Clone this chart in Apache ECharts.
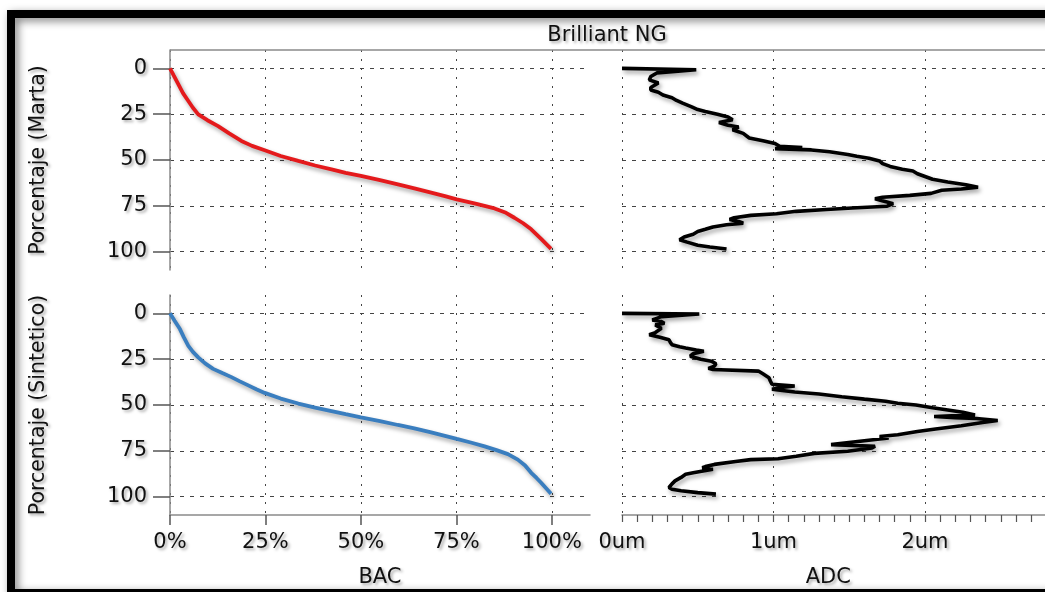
<!DOCTYPE html>
<html>
<head>
<meta charset="utf-8">
<script src="https://cdn.jsdelivr.net/npm/echarts@6/dist/echarts.min.js"></script>
<style>
html,body{margin:0;padding:0;background:#fff;}
#chart{width:1045px;height:592px;}
</style>
</head>
<body>
<div id="chart"></div>
<script>
// ---- data ----
const titleText = 'Brilliant NG';
const pctTicks = [0, 25, 50, 75, 100];
const bacTicks = [0, 25, 50, 75, 100];

// Top-left: Porcentaje (Marta) vs BAC (%)
const martaBac = [0, 1.0, 2.2, 3.4, 4.8, 6.0, 7.4, 9.8, 12.6, 15.5, 18.7, 21.5, 24.8, 29, 33.6, 38, 42.3, 46, 50, 55, 59.7, 64, 68.4, 72, 75.1, 80, 85, 88, 90.2, 92.5, 94.6, 97.2, 99.8];
const martaPct = [0, 4, 8.7, 13.5, 17.8, 21.5, 25.1, 28.3, 31.5, 35.5, 39.6, 42.3, 44.7, 47.8, 50.5, 53, 55.1, 57, 58.7, 61, 63.3, 65.5, 67.8, 69.7, 71.5, 73.8, 76.4, 78.8, 81.5, 84.5, 87.8, 93, 98.5];

// Bottom-left: Porcentaje (Sintetico) vs BAC (%)
const sintBac = [0, 1.2, 2.6, 3.6, 4.8, 6, 7.4, 9.2, 11.3, 13.7, 16.1, 18.3, 20.5, 22.6, 24.8, 29, 33.6, 38, 42.3, 46, 50, 55, 59.7, 64, 68.4, 72, 75.1, 79, 82.4, 85.5, 88.5, 91.1, 93, 94.6, 96, 97.2, 99.8];
const sintPct = [0, 4, 8.6, 13, 17.7, 21, 24, 27.3, 30.3, 32.6, 34.8, 37.1, 39.3, 41.4, 43.4, 46.5, 49.2, 51.4, 53.3, 55, 56.8, 58.8, 60.9, 62.7, 64.9, 66.8, 68.5, 70.6, 72.6, 74.6, 76.8, 79.8, 83, 87, 89.8, 92.4, 98.4];

// Top-right: Porcentaje (Marta) vs ADC (um)
const martaAdcPct = [0, 0.8, 2.5, 4.5, 6.3, 8, 9, 10.5, 11.8, 13, 14.5, 16, 17.5, 19, 21, 22.5, 23.5, 25, 26.5, 28, 29.5, 31, 32, 33.5, 35.5, 38, 39.5, 41, 42.5, 43.2, 43.8, 44.5, 45.5, 47, 48, 49, 50.5, 52, 53.5, 55, 56, 57.5, 59, 60.5, 62, 63.5, 64.9, 65.8, 66.5, 67.5, 68.2, 69.3, 70.3, 71.2, 72.5, 73.8, 75.2, 76.2, 77, 78, 79.3, 80.2, 81.5, 82.4, 83.5, 84.5, 85.3, 86.5, 87.8, 89, 90.5, 92, 93.5, 94.8, 96.5, 97.5, 98.5];
const martaAdcUm  = [0, 0.49, 0.23, 0.19, 0.18, 0.24, 0.25, 0.19, 0.19, 0.24, 0.27, 0.33, 0.36, 0.40, 0.46, 0.50, 0.55, 0.63, 0.70, 0.73, 0.64, 0.70, 0.77, 0.73, 0.80, 0.84, 0.93, 1.01, 1.04, 1.19, 1.01, 1.25, 1.37, 1.49, 1.55, 1.63, 1.70, 1.72, 1.77, 1.85, 1.92, 1.95, 2.00, 2.05, 2.15, 2.27, 2.35, 2.24, 2.11, 2.12, 2.04, 1.90, 1.72, 1.67, 1.73, 1.79, 1.75, 1.52, 1.35, 1.15, 1.02, 0.85, 0.74, 0.71, 0.77, 0.80, 0.69, 0.60, 0.55, 0.50, 0.47, 0.41, 0.38, 0.43, 0.50, 0.58, 0.69];

// Bottom-right: Porcentaje (Sintetico) vs ADC (um)
const sintAdcPct = [0, 0.4, 1.8, 3, 3.6, 4.5, 5.4, 6.3, 7.2, 8.2, 9, 10.5, 11.7, 13, 14.4, 16, 17.1, 18.2, 18.9, 20, 20.7, 22, 23.4, 25, 26.1, 27.5, 28.8, 30, 30.6, 31.5, 33, 35.1, 37, 38.7, 39.6, 40.5, 41.4, 42.9, 44, 45.5, 46.8, 48, 49, 50, 51.5, 52.7, 54, 55.4, 56.3, 56.9, 57.4, 58.5, 59.5, 61.3, 63.1, 64.5, 66.2, 67.2, 68, 69.5, 71.6, 72.5, 73.5, 75.2, 76.4, 78, 79.3, 79.8, 80.8, 82.4, 83.6, 84.2, 85, 86, 87, 87.8, 89.5, 91.4, 93, 95, 96, 96.8, 97.8, 98.6];
const sintAdcUm  = [0, 0.51, 0.26, 0.22, 0.20, 0.26, 0.28, 0.22, 0.21, 0.26, 0.27, 0.22, 0.18, 0.25, 0.31, 0.32, 0.33, 0.38, 0.42, 0.49, 0.54, 0.47, 0.45, 0.52, 0.59, 0.62, 0.61, 0.57, 0.60, 0.90, 0.93, 0.97, 0.98, 0.99, 1.14, 1.05, 0.99, 1.14, 1.30, 1.45, 1.60, 1.74, 1.82, 1.94, 2.05, 2.15, 2.25, 2.33, 2.06, 2.20, 2.34, 2.48, 2.38, 2.24, 2.07, 1.95, 1.82, 1.70, 1.76, 1.60, 1.38, 1.67, 1.65, 1.49, 1.27, 1.15, 1.03, 0.85, 0.75, 0.61, 0.55, 0.53, 0.60, 0.59, 0.47, 0.42, 0.39, 0.35, 0.33, 0.31, 0.33, 0.39, 0.50, 0.62];

// ---- chart ----
const FONT = 'DejaVu Sans';
const TXT = '#111';
const tShadow = {textShadowColor: 'rgba(0,0,0,0.35)', textShadowBlur: 3, textShadowOffsetX: 2, textShadowOffsetY: 2};
const lShadow = {shadowColor: 'rgba(0,0,0,0.35)', shadowBlur: 4, shadowOffsetX: 2, shadowOffsetY: 3};
const zip = (xs, ys) => xs.map((x, i) => [x, ys[i]]);

const hSplit = {show: true, lineStyle: {color: '#444', width: 1, type: [4, 6]}};
const vSplit = {show: true, lineStyle: {color: '#444', width: 1, type: [2, 7]}};
const axisLineStyle = {show: true, onZero: false, lineStyle: {color: '#8a8a8a', width: 1.5}};

function yAx(gridIndex, withLabels, name) {
  return {
    type: 'value', gridIndex, inverse: true, min: -10, max: 110,
    axisLine: withLabels ? axisLineStyle : {show: false, onZero: false},
    axisTick: {show: withLabels, customValues: pctTicks, length: 17, inside: false, lineStyle: {color: '#555', width: 1.5}},
    axisLabel: {show: withLabels, customValues: pctTicks, margin: 23, fontFamily: FONT, fontSize: 21, color: TXT, ...tShadow},
    splitLine: hSplit,
    name: name || '', nameLocation: 'middle', nameGap: 121, nameRotate: 90,
    nameTextStyle: {fontFamily: FONT, fontSize: 20.5, color: TXT, ...tShadow}
  };
}

const option = {
  animation: false,
  backgroundColor: '#fff',
  title: {
    text: titleText, left: 607, top: 25, textAlign: 'center', padding: 0,
    textStyle: {fontFamily: FONT, fontSize: 21, fontWeight: 'normal', color: TXT, ...tShadow}
  },
  grid: [
    {left: 170, top: 50, width: 420, height: 220, outerBoundsMode: 'none', containLabel: false},
    {left: 622, top: 50, width: 454.5, height: 220, outerBoundsMode: 'none', containLabel: false},
    {left: 170, top: 295, width: 420, height: 220, outerBoundsMode: 'none', containLabel: false},
    {left: 622, top: 295, width: 454.5, height: 220, outerBoundsMode: 'none', containLabel: false}
  ],
  xAxis: [
    {type: 'value', gridIndex: 0, min: 0, max: 110,
     axisLine: {show: false, onZero: false}, axisTick: {show: false, customValues: bacTicks}, axisLabel: {show: false, customValues: bacTicks},
     splitLine: vSplit},
    {type: 'value', gridIndex: 1, min: 0, max: 3, interval: 1,
     axisLine: {show: false, onZero: false}, axisTick: {show: false}, axisLabel: {show: false},
     splitLine: vSplit},
    {type: 'value', gridIndex: 2, min: 0, max: 110,
     axisLine: axisLineStyle,
     axisTick: {show: true, customValues: bacTicks, length: 10, lineStyle: {color: '#555', width: 1.5}},
     axisLabel: {customValues: bacTicks, formatter: '{value}%', margin: 17, fontFamily: FONT, fontSize: 21, color: TXT, ...tShadow},
     splitLine: vSplit,
     name: 'BAC', nameLocation: 'middle', nameGap: 52,
     nameTextStyle: {fontFamily: FONT, fontSize: 21, color: TXT, ...tShadow}},
    {type: 'value', gridIndex: 3, min: 0, max: 3, interval: 1,
     axisLine: axisLineStyle,
     axisTick: {show: true, length: 7, lineStyle: {color: '#555', width: 1.2}},
     minorTick: {show: true, splitNumber: 10, length: 7, lineStyle: {color: '#555', width: 1.2}},
     axisLabel: {formatter: '{value}um', margin: 17, fontFamily: FONT, fontSize: 21, color: TXT, ...tShadow},
     splitLine: vSplit,
     name: 'ADC', nameLocation: 'middle', nameGap: 52,
     nameTextStyle: {fontFamily: FONT, fontSize: 21, color: TXT, padding: [0, 42, 0, 0], ...tShadow}}
  ],
  yAxis: [
    yAx(0, true, 'Porcentaje (Marta)'),
    yAx(1, false),
    yAx(2, true, 'Porcentaje (Sintetico)'),
    yAx(3, false)
  ],
  series: [
    {type: 'line', xAxisIndex: 0, yAxisIndex: 0, data: zip(martaBac, martaPct), symbol: 'none',
     lineStyle: {color: '#e41a1c', width: 3.8, ...lShadow}},
    {type: 'line', xAxisIndex: 1, yAxisIndex: 1, data: zip(martaAdcUm, martaAdcPct), symbol: 'none',
     lineStyle: {color: '#000', width: 3.6, ...lShadow}},
    {type: 'line', xAxisIndex: 2, yAxisIndex: 2, data: zip(sintBac, sintPct), symbol: 'none',
     lineStyle: {color: '#3a7ebf', width: 3.8, ...lShadow}},
    {type: 'line', xAxisIndex: 3, yAxisIndex: 3, data: zip(sintAdcUm, sintAdcPct), symbol: 'none',
     lineStyle: {color: '#000', width: 3.6, ...lShadow}}
  ],
  graphic: [
    {type: 'line', shape: {x1: 170, y1: 50, x2: 1045, y2: 50}, style: {stroke: '#8a8a8a', lineWidth: 1.5}, z: 5},
    {type: 'rect', shape: {x: 11, y: 14, width: 1100, height: 579},
     style: {fill: null, stroke: '#000', lineWidth: 8, shadowColor: 'rgba(0,0,0,0.5)', shadowBlur: 8, shadowOffsetX: 3, shadowOffsetY: 3}, z: 10}
  ]
};

const chart = echarts.init(document.getElementById('chart'), null, {renderer: 'canvas'});
chart.setOption(option);
</script>
</body>
</html>
